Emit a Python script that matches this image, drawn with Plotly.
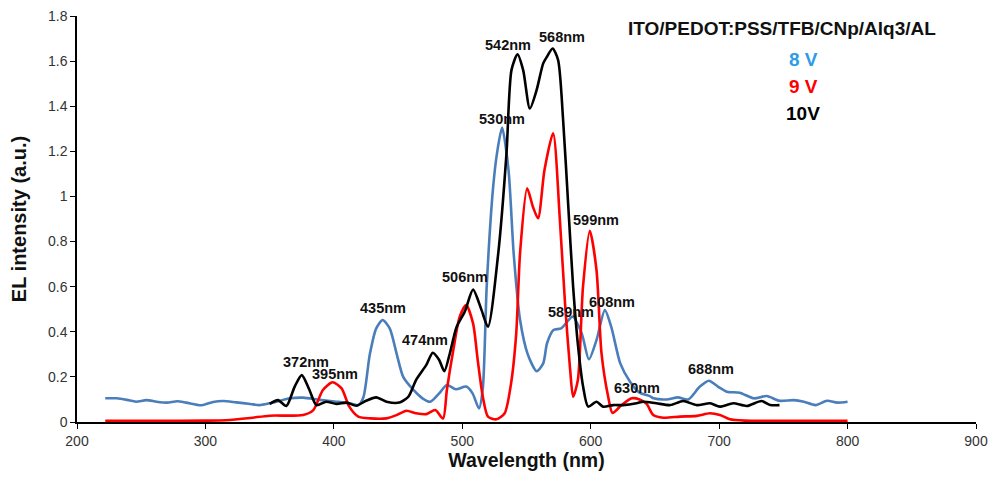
import plotly.graph_objects as go

# ---- data (wavelength in nm, EL intensity in a.u.) ----
wl_8v = [222, 231, 239, 246, 254, 262, 270, 278, 285, 297, 306, 314, 324, 335, 342, 350,
         366, 376, 389, 402, 412, 419, 423, 428, 433, 438, 443.5, 449, 454, 462, 469, 475,
         482, 488, 495, 503, 508, 513, 516, 519, 524, 527, 531, 536, 540, 545, 551, 558,
         563, 566, 571, 577, 586, 593, 598.6, 604.5, 611, 616, 623, 630.5, 638, 646, 649,
         659, 668, 676, 685, 692, 699, 706, 716, 727, 737, 747, 758, 766, 775, 784, 792, 800]
int_8v = [0.105, 0.105, 0.098, 0.09, 0.097, 0.09, 0.086, 0.092, 0.086, 0.074, 0.089, 0.093,
          0.087, 0.08, 0.075, 0.083, 0.105, 0.108, 0.098, 0.09, 0.083, 0.075, 0.11, 0.30,
          0.415, 0.452, 0.415, 0.30, 0.20, 0.142, 0.105, 0.09, 0.127, 0.164, 0.145, 0.157,
          0.127, 0.06, 0.15, 0.60, 1.04, 1.19, 1.305, 1.117, 0.748, 0.452, 0.30, 0.225, 0.26,
          0.349, 0.408, 0.415, 0.467, 0.393, 0.278, 0.363, 0.496, 0.422, 0.26, 0.18, 0.13,
          0.115, 0.105, 0.10, 0.109, 0.10, 0.157, 0.183, 0.157, 0.134, 0.13, 0.105, 0.115,
          0.094, 0.097, 0.09, 0.075, 0.094, 0.086, 0.09]

wl_9v = [222, 260, 300, 316, 335, 350, 376, 384, 391.5, 399, 406, 412, 419, 428, 441, 449,
         456.5, 464, 472, 479, 485, 488, 493, 498, 503, 508.4, 512, 516, 520, 526.6, 533,
         538, 542, 545, 550.5, 555, 559, 564, 570.7, 576, 580, 584, 586.3, 590, 594, 599.3,
         604.5, 608.4, 613.6, 617, 624, 632, 638, 643.5, 648.7, 656.5, 669.5, 682.5, 692.8,
         700.6, 708.4, 720, 760, 800]
int_9v = [0.005, 0.005, 0.006, 0.008, 0.018, 0.028, 0.031, 0.053, 0.142, 0.176, 0.149, 0.068,
          0.024, 0.016, 0.016, 0.031, 0.05, 0.039, 0.035, 0.053, 0.015, 0.142, 0.319, 0.467,
          0.519, 0.437, 0.275, 0.112, 0.024, 0.012, 0.039, 0.172, 0.393, 0.75, 1.036, 0.954,
          0.903, 1.117, 1.28, 0.895, 0.526, 0.23, 0.112, 0.186, 0.60, 0.848, 0.674, 0.305,
          0.112, 0.04, 0.075, 0.105, 0.10, 0.08, 0.031, 0.019, 0.024, 0.027, 0.039, 0.031,
          0.012, 0.006, 0.005, 0.005]

wl_10v = [350, 356.5, 363, 369.5, 375, 381, 386.4, 394, 402, 410, 417.5, 425, 433, 441, 451,
          458, 464, 472, 477, 482, 486, 490, 495.5, 502, 508.4, 515, 520, 528, 534.4, 538.3,
          543, 547.4, 552.6, 557.8, 563, 566, 570.3, 574.6, 578.5, 582.4, 586.3, 590.2, 594.1,
          598, 604.5, 609.7, 617.5, 625.3, 635.7, 641, 651, 662, 672, 682.5, 693, 700.6, 711,
          721.5, 733, 740, 747]
int_10v = [0.08, 0.097, 0.071, 0.157, 0.208, 0.142, 0.075, 0.09, 0.08, 0.086, 0.072, 0.094,
           0.109, 0.09, 0.086, 0.112, 0.186, 0.253, 0.307, 0.275, 0.225, 0.297, 0.42, 0.49,
           0.587, 0.496, 0.422, 0.748, 1.19, 1.56, 1.63, 1.56, 1.39, 1.47, 1.59, 1.62, 1.656,
           1.605, 1.34, 0.97, 0.60, 0.334, 0.156, 0.068, 0.09, 0.068, 0.075, 0.075, 0.083,
           0.09, 0.083, 0.075, 0.093, 0.075, 0.083, 0.068, 0.083, 0.071, 0.093, 0.075, 0.075]

# peak labels: (text, x, y)
peak_text = ["372nm", "395nm", "435nm", "474nm", "506nm", "530nm", "542nm", "568nm",
             "599nm", "589nm", "608nm", "630nm", "688nm"]
peak_x = [378.6, 400.6, 438.3, 471.3, 502, 531.3, 535.7, 577.3, 604.5, 585, 616.2, 635.7, 694]
peak_y = [0.267, 0.213, 0.507, 0.363, 0.644, 1.343, 1.671, 1.705, 0.895, 0.489, 0.533, 0.149, 0.233]

x_ticks = [200, 300, 400, 500, 600, 700, 800, 900]
y_ticks = [0, 0.2, 0.4, 0.6, 0.8, 1.0, 1.2, 1.4, 1.6, 1.8]
y_tick_text = ["0", "0.2", "0.4", "0.6", "0.8", "1", "1.2", "1.4", "1.6", "1.8"]

device_label = "ITO/PEDOT:PSS/TFB/CNp/Alq3/AL"
series_names = ["8 V", "9 V", "10V"]
series_colors = ["#4A7EBB", "#FF0000", "#000000"]
legend_colors = ["#2E9BE6", "#FF0000", "#000000"]

FONT = "Arial, Liberation Sans"

fig = go.Figure()
for wl, vals, name, col in [(wl_8v, int_8v, series_names[0], series_colors[0]),
                            (wl_9v, int_9v, series_names[1], series_colors[1]),
                            (wl_10v, int_10v, series_names[2], series_colors[2])]:
    fig.add_trace(go.Scatter(x=wl, y=vals, mode="lines", name=name,
                             line=dict(color=col, width=2.6, shape="spline", smoothing=0.7)))

for t, x, y in zip(peak_text, peak_x, peak_y):
    fig.add_annotation(x=x, y=y, text="<b>" + t + "</b>", showarrow=False,
                       font=dict(family=FONT, size=14.5, color="#111111"))

fig.add_annotation(x=748.7, y=1.745, text="<b>" + device_label + "</b>", showarrow=False,
                   font=dict(family=FONT, size=19, color="#111111"))
for name, col, y in zip(series_names, legend_colors, [1.605, 1.486, 1.368]):
    fig.add_annotation(x=765.5, y=y, text="<b>" + name + "</b>", showarrow=False,
                       font=dict(family=FONT, size=19, color=col))

fig.update_layout(
    width=988, height=477,
    margin=dict(l=77, r=12, t=16, b=55),
    plot_bgcolor="white", paper_bgcolor="white",
    showlegend=False,
    xaxis=dict(range=[200, 900], tickvals=x_ticks, showgrid=False, zeroline=False,
               automargin=False,
               showline=True, linecolor="black", linewidth=1.5,
               ticks="outside", ticklen=5, tickcolor="black",
               tickfont=dict(family=FONT, size=14, color="#333333"),
               title=dict(text="<b>Wavelength (nm)</b>", standoff=6,
                          font=dict(family=FONT, size=19.5, color="#111111"))),
    yaxis=dict(range=[0, 1.8], tickvals=y_ticks, ticktext=y_tick_text, showgrid=False,
               automargin=False,
               zeroline=False, showline=True, linecolor="black", linewidth=1.5,
               ticks="outside", ticklen=5, tickcolor="black",
               tickfont=dict(family=FONT, size=14, color="#333333"),
               title=dict(text="<b>EL intensity (a.u.)</b>", standoff=16,
                          font=dict(family=FONT, size=20, color="#111111"))),
)

fig.write_html("out.html")
